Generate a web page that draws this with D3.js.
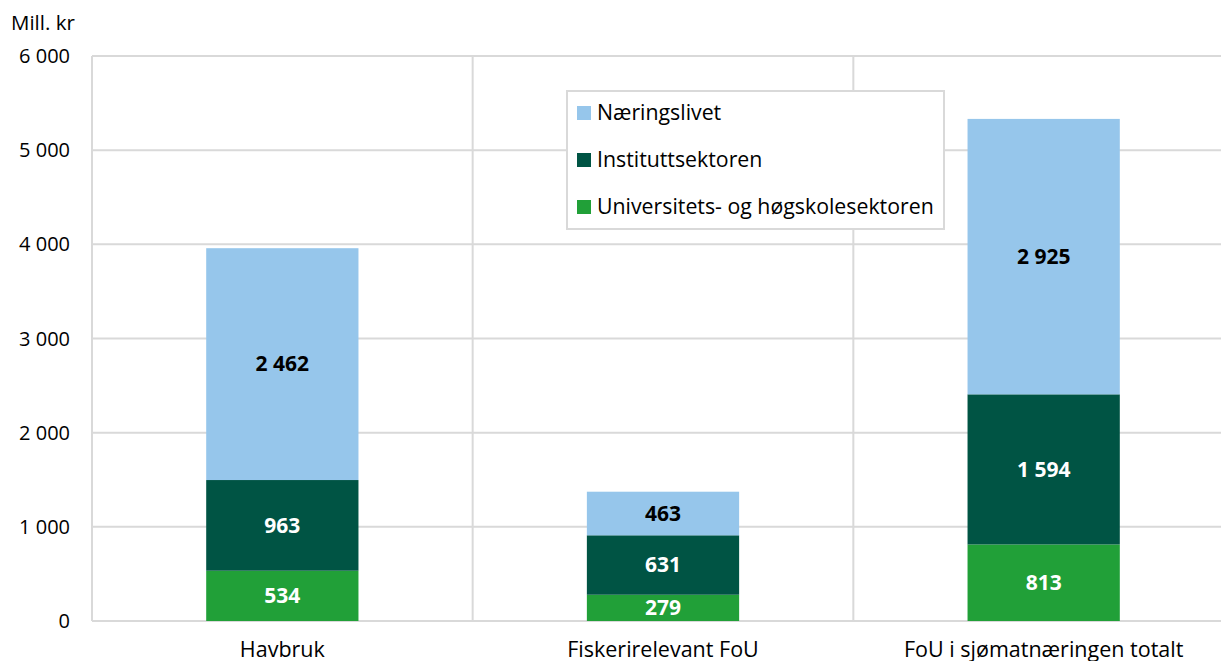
<!DOCTYPE html>
<html>
<head>
<meta charset="utf-8">
<script src="https://cdn.jsdelivr.net/npm/d3@7"></script>
<style>
  body { margin: 0; background: #fff; }
  svg { font-family: "Open Sans", sans-serif; }
</style>
</head>
<body>
<svg id="chart" width="1221" height="661"></svg>
<script>
// data
const categories = ["Havbruk", "Fiskerirelevant FoU", "FoU i sjømatnæringen totalt"];
const seriesNames = ["Universitets- og høgskolesektoren", "Instituttsektoren", "Næringslivet"];
const uhValues = [534, 279, 813];
const instValues = [963, 631, 1594];
const naeringValues = [2462, 463, 2925];
const yTicks = [0, 1000, 2000, 3000, 4000, 5000, 6000];

const colors = ["#21a038", "#005444", "#96c6eb"];
const labelColors = ["#fff", "#fff", "#000"];

let margin = {top: 56, right: -13, bottom: 40, left: 92};
let width = 1221, height = 661;

let rows = categories.map((c, i) => ({
  cat: c,
  [seriesNames[0]]: uhValues[i],
  [seriesNames[1]]: instValues[i],
  [seriesNames[2]]: naeringValues[i]
}));
let stacked = d3.stack().keys(seriesNames)(rows);

let svg = d3.select("#chart");

let x = d3.scaleBand(categories, [margin.left, width - margin.right]).paddingInner(0).paddingOuter(0);
let y = d3.scaleLinear([0, 6000], [height - margin.bottom, margin.top]);
let fmt = v => d3.format(",")(v).replace(/,/g, " ");

// grid
let grid = svg.append("g").attr("stroke", "#d9d9d9").attr("stroke-width", 2);
grid.selectAll("line.h")
  .data(yTicks)
  .join("line")
  .attr("x1", margin.left).attr("x2", width)
  .attr("y1", d => y(d)).attr("y2", d => y(d));
grid.selectAll("line.v")
  .data(categories.concat(["end"]))
  .join("line")
  .attr("x1", (d, i) => margin.left + i * x.bandwidth())
  .attr("x2", (d, i) => margin.left + i * x.bandwidth())
  .attr("y1", y(6000)).attr("y2", y(0));

// y axis labels
svg.append("g")
  .selectAll("text")
  .data(yTicks)
  .join("text")
  .attr("x", 70)
  .attr("y", d => y(d))
  .attr("dy", "0.35em")
  .attr("text-anchor", "end")
  .attr("font-size", 20)
  .attr("fill", "#000")
  .text(d => fmt(d));

svg.append("text")
  .attr("x", 11).attr("y", 30)
  .attr("font-size", 20.5)
  .text("Mill. kr");

// bars
let barW = x.bandwidth() * 0.4;
let layers = svg.append("g")
  .selectAll("g")
  .data(stacked)
  .join("g")
  .attr("fill", (d, i) => colors[i]);

layers.selectAll("rect")
  .data(d => d)
  .join("rect")
  .attr("x", d => x(d.data.cat) + (x.bandwidth() - barW) / 2)
  .attr("width", barW)
  .attr("y", d => y(d[1]))
  .attr("height", d => y(d[0]) - y(d[1]));

layers.each(function(s, si) {
  d3.select(this).selectAll("text")
    .data(s)
    .join("text")
    .attr("x", d => x(d.data.cat) + x.bandwidth() / 2)
    .attr("y", d => (y(d[0]) + y(d[1])) / 2)
    .attr("dy", "0.35em")
    .attr("text-anchor", "middle")
    .attr("font-size", 21)
    .attr("font-weight", "bold")
    .attr("fill", labelColors[si])
    .text(d => fmt(d[1] - d[0]));
});

// category labels
svg.append("g")
  .selectAll("text")
  .data(categories)
  .join("text")
  .attr("x", d => x(d) + x.bandwidth() / 2)
  .attr("y", 657)
  .attr("text-anchor", "middle")
  .attr("font-size", 21.5)
  .text(d => d);

// legend
let legend = svg.append("g");
legend.append("rect")
  .attr("x", 567).attr("y", 91)
  .attr("width", 377).attr("height", 138)
  .attr("fill", "#fff")
  .attr("stroke", "#d9d9d9")
  .attr("stroke-width", 2);
let legendOrder = [2, 1, 0];
let item = legend.selectAll("g")
  .data(legendOrder)
  .join("g")
  .attr("transform", (d, i) => `translate(577,${113 + i * 47})`);
item.append("rect")
  .attr("x", 0).attr("y", -7)
  .attr("width", 14).attr("height", 14)
  .attr("fill", d => colors[d]);
item.append("text")
  .attr("x", 20).attr("y", 0)
  .attr("dy", "0.35em")
  .attr("font-size", 21.3)
  .text(d => seriesNames[d]);
</script>
</body>
</html>
